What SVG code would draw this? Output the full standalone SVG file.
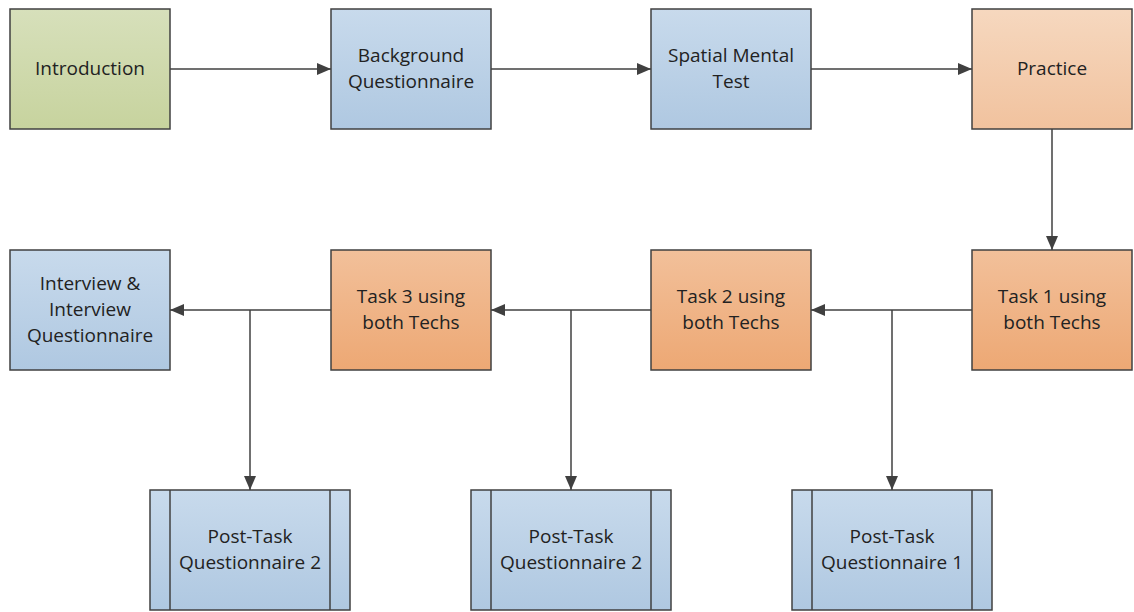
<svg xmlns="http://www.w3.org/2000/svg" width="1134" height="612" viewBox="0 0 1134 612">
  <defs>
    <linearGradient id="gGreen" x1="0" y1="0" x2="0" y2="1">
      <stop offset="0" stop-color="#d7e0bb"/>
      <stop offset="1" stop-color="#c7d39e"/>
    </linearGradient>
    <linearGradient id="gBlue" x1="0" y1="0" x2="0" y2="1">
      <stop offset="0" stop-color="#c8daec"/>
      <stop offset="1" stop-color="#afc8e1"/>
    </linearGradient>
    <linearGradient id="gPeach" x1="0" y1="0" x2="0" y2="1">
      <stop offset="0" stop-color="#f6d8bf"/>
      <stop offset="1" stop-color="#f1c29e"/>
    </linearGradient>
    <linearGradient id="gOrange" x1="0" y1="0" x2="0" y2="1">
      <stop offset="0" stop-color="#f2c09a"/>
      <stop offset="1" stop-color="#eda874"/>
    </linearGradient>
    <marker id="arrow" viewBox="0 0 14 12" refX="14" refY="6" markerWidth="14" markerHeight="12" markerUnits="userSpaceOnUse" orient="auto">
      <path d="M0,0 L14,6 L0,12 Z" fill="#404040"/>
    </marker>
    <style>
      .box { stroke: #404040; stroke-width: 1.5; }
      .bar { stroke: #404040; stroke-width: 1.5; fill: none; }
      .lbl { font-family: "Open Sans", "Liberation Sans", sans-serif; font-size: 19px; fill: #222; text-anchor: middle; }
      .wire { stroke: #404040; stroke-width: 1.5; fill: none; }
    </style>
  </defs>

  <!-- connectors -->
  <g id="connectors">
    <line class="wire" x1="170" y1="69" x2="331" y2="69" marker-end="url(#arrow)"/>
    <line class="wire" x1="491" y1="69" x2="651" y2="69" marker-end="url(#arrow)"/>
    <line class="wire" x1="811" y1="69" x2="972" y2="69" marker-end="url(#arrow)"/>
    <line class="wire" x1="1052" y1="129" x2="1052" y2="250" marker-end="url(#arrow)"/>
    <line class="wire" x1="972" y1="310" x2="811" y2="310" marker-end="url(#arrow)"/>
    <line class="wire" x1="892" y1="310" x2="892" y2="490" marker-end="url(#arrow)"/>
    <line class="wire" x1="651" y1="310" x2="491" y2="310" marker-end="url(#arrow)"/>
    <line class="wire" x1="571" y1="310" x2="571" y2="490" marker-end="url(#arrow)"/>
    <line class="wire" x1="331" y1="310" x2="170" y2="310" marker-end="url(#arrow)"/>
    <line class="wire" x1="250" y1="310" x2="250" y2="490" marker-end="url(#arrow)"/>
  </g>

  <!-- top row -->
  <g id="introduction">
    <rect class="box" x="10" y="9" width="160" height="120" fill="url(#gGreen)"/>
    <text class="lbl" x="90" y="75">Introduction</text>
  </g>
  <g id="background-questionnaire">
    <rect class="box" x="331" y="9" width="160" height="120" fill="url(#gBlue)"/>
    <text class="lbl" x="411" y="62">Background</text>
    <text class="lbl" x="411" y="88">Questionnaire</text>
  </g>
  <g id="spatial-mental-test">
    <rect class="box" x="651" y="9" width="160" height="120" fill="url(#gBlue)"/>
    <text class="lbl" x="731" y="62">Spatial Mental</text>
    <text class="lbl" x="731" y="88">Test</text>
  </g>
  <g id="practice">
    <rect class="box" x="972" y="9" width="160" height="120" fill="url(#gPeach)"/>
    <text class="lbl" x="1052" y="75">Practice</text>
  </g>

  <!-- middle row -->
  <g id="interview">
    <rect class="box" x="10" y="250" width="160" height="120" fill="url(#gBlue)"/>
    <text class="lbl" x="90" y="290">Interview &amp;</text>
    <text class="lbl" x="90" y="316">Interview</text>
    <text class="lbl" x="90" y="342">Questionnaire</text>
  </g>
  <g id="task3">
    <rect class="box" x="331" y="250" width="160" height="120" fill="url(#gOrange)"/>
    <text class="lbl" x="411" y="303">Task 3 using</text>
    <text class="lbl" x="411" y="329">both Techs</text>
  </g>
  <g id="task2">
    <rect class="box" x="651" y="250" width="160" height="120" fill="url(#gOrange)"/>
    <text class="lbl" x="731" y="303">Task 2 using</text>
    <text class="lbl" x="731" y="329">both Techs</text>
  </g>
  <g id="task1">
    <rect class="box" x="972" y="250" width="160" height="120" fill="url(#gOrange)"/>
    <text class="lbl" x="1052" y="303">Task 1 using</text>
    <text class="lbl" x="1052" y="329">both Techs</text>
  </g>

  <!-- bottom row: predefined-process boxes -->
  <g id="post-task-3">
    <rect class="box" x="150" y="490" width="200" height="120" fill="url(#gBlue)"/>
    <line class="bar" x1="170" y1="490" x2="170" y2="610"/>
    <line class="bar" x1="330" y1="490" x2="330" y2="610"/>
    <text class="lbl" x="250" y="543">Post-Task</text>
    <text class="lbl" x="250" y="569">Questionnaire 2</text>
  </g>
  <g id="post-task-2">
    <rect class="box" x="471" y="490" width="200" height="120" fill="url(#gBlue)"/>
    <line class="bar" x1="491" y1="490" x2="491" y2="610"/>
    <line class="bar" x1="651" y1="490" x2="651" y2="610"/>
    <text class="lbl" x="571" y="543">Post-Task</text>
    <text class="lbl" x="571" y="569">Questionnaire 2</text>
  </g>
  <g id="post-task-1">
    <rect class="box" x="792" y="490" width="200" height="120" fill="url(#gBlue)"/>
    <line class="bar" x1="812" y1="490" x2="812" y2="610"/>
    <line class="bar" x1="972" y1="490" x2="972" y2="610"/>
    <text class="lbl" x="892" y="543">Post-Task</text>
    <text class="lbl" x="892" y="569">Questionnaire 1</text>
  </g>
</svg>
